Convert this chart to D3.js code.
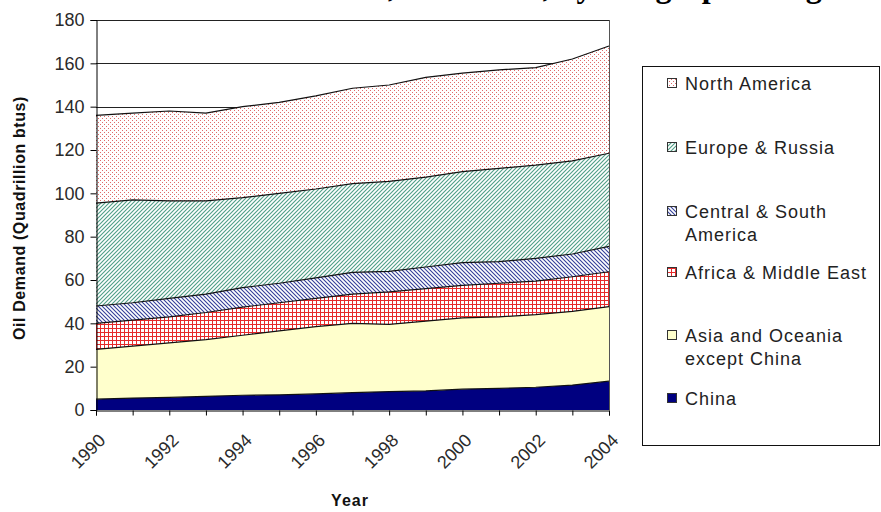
<!DOCTYPE html>
<html>
<head>
<meta charset="utf-8">
<script src="https://cdn.jsdelivr.net/npm/d3@7"></script>
<style>
  body { margin: 0; background: #fff; }
  svg { display: block; font-family: "Liberation Sans", Arial, sans-serif; }
</style>
</head>
<body>
<svg id="chart" width="881" height="512"></svg>
<script>
// data (quadrillion btus per region)
const years = [1990, 1991, 1992, 1993, 1994, 1995, 1996, 1997, 1998, 1999, 2000, 2001, 2002, 2003, 2004];
const china = [5, 5.5, 5.8, 6.3, 6.8, 7.0, 7.4, 8.0, 8.5, 8.8, 9.6, 10.0, 10.5, 11.5, 13.3];
const asia = [23, 24, 25.2, 26.2, 27.7, 29.5, 31.1, 32, 31, 32.2, 32.9, 33, 33.5, 34, 34.4];
const africa = [12, 12, 12, 12.5, 13, 13, 13, 13.5, 15, 15, 15, 15.5, 15.5, 16, 16.1];
const central = [8, 8, 8.5, 8.5, 9, 9, 9.5, 10, 9.5, 10, 10.5, 10, 10.5, 10.5, 11.7];
const europe = [47.5, 47.5, 45, 43, 41.5, 41.5, 41, 41, 41.5, 41.5, 42, 43, 43, 43, 43];
const northAmerica = [40.5, 40, 41.5, 40.5, 42, 42, 43, 44, 44.5, 46, 45.5, 45.5, 45, 47, 49.5];
const yTicks = [0, 20, 40, 60, 80, 100, 120, 140, 160, 180];
const xLabels = [1990, 1992, 1994, 1996, 1998, 2000, 2002, 2004];

const seriesKeys = ["china", "asia", "africa", "central", "europe", "na"];
const seriesData = { china: china, asia: asia, africa: africa, central: central, europe: europe, na: northAmerica };

// legend, top to bottom
const legendItems = [
  { key: "na", lines: ["North America"], y: 83 },
  { key: "europe", lines: ["Europe & Russia"], y: 147 },
  { key: "central", lines: ["Central & South", "America"], y: 211 },
  { key: "africa", lines: ["Africa & Middle East"], y: 272 },
  { key: "asia", lines: ["Asia and Oceania", "except China"], y: 335 },
  { key: "china", lines: ["China"], y: 398 }
];

const svg = d3.select("#chart");
const defs = svg.append("defs");

// fill patterns similar to the old Excel ones
var pDots = defs.append("pattern").attr("id", "p-na")
  .attr("width", 4).attr("height", 4).attr("patternUnits", "userSpaceOnUse");
pDots.append("rect").attr("width", 4).attr("height", 4).attr("fill", "#fff");
pDots.append("rect").attr("x", 0).attr("y", 0).attr("width", 1).attr("height", 1).attr("fill", "#e06a6a");
pDots.append("rect").attr("x", 2).attr("y", 2).attr("width", 1).attr("height", 1).attr("fill", "#e06a6a");

var pEu = defs.append("pattern").attr("id", "p-europe")
  .attr("width", 4).attr("height", 4).attr("patternUnits", "userSpaceOnUse");
pEu.append("rect").attr("width", 4).attr("height", 4).attr("fill", "#fff");
pEu.append("path").attr("d", "M-1,1 L1,-1 M0,4 L4,0 M3,5 L5,3")
  .attr("stroke", "#4f9e86").attr("stroke-width", 1.1);

var pCs = defs.append("pattern").attr("id", "p-central")
  .attr("width", 4).attr("height", 4).attr("patternUnits", "userSpaceOnUse");
pCs.append("rect").attr("width", 4).attr("height", 4).attr("fill", "#fff");
pCs.append("path").attr("d", "M-1,3 L1,5 M0,0 L4,4 M3,-1 L5,1")
  .attr("stroke", "#333f99").attr("stroke-width", 1.1);

var pAf = defs.append("pattern").attr("id", "p-africa")
  .attr("width", 4).attr("height", 4).attr("patternUnits", "userSpaceOnUse");
pAf.append("rect").attr("width", 4).attr("height", 4).attr("fill", "#fff");
pAf.append("path").attr("d", "M0.5,0 V4 M0,0.5 H4")
  .attr("stroke", "#e52a2a").attr("stroke-width", 1);

const fills = {
  na: "url(#p-na)",
  europe: "url(#p-europe)",
  central: "url(#p-central)",
  africa: "url(#p-africa)",
  asia: "#ffffcc",
  china: "#000080"
};

const margin = { top: 20, left: 96, right: 272, bottom: 102 };
const plotW = 881 - margin.left - margin.right;
const plotH = 512 - margin.top - margin.bottom;

const x = d3.scaleLinear().domain([1990, 2004]).range([margin.left, margin.left + plotW]);
const y = d3.scaleLinear().domain([0, 180]).range([margin.top + plotH, margin.top]);

// title, mostly clipped at the top edge (as in the source image)
var title = svg.append("text")
  .attr("y", -3)
  .style("font-family", "'Liberation Serif', 'Times New Roman', serif")
  .style("font-weight", "bold")
  .style("font-size", "32px")
  .text("World Oil Demand, 1990-2004, by Geographic Region");
title.attr("x", 388 - title.node().getSubStringLength(0, 16));

// gridlines behind the areas
svg.append("g").selectAll("line")
  .data(yTicks.filter(function(d) { return d > 0; }))
  .enter().append("line")
  .attr("x1", margin.left).attr("x2", margin.left + plotW)
  .attr("y1", function(d) { return Math.round(y(d)) + 0.5; })
  .attr("y2", function(d) { return Math.round(y(d)) + 0.5; })
  .attr("stroke", "#222").attr("stroke-width", 1);

// right border of plot area
svg.append("line")
  .attr("x1", margin.left + plotW + 0.5).attr("x2", margin.left + plotW + 0.5)
  .attr("y1", margin.top).attr("y2", margin.top + plotH)
  .attr("stroke", "#555");

// stacked areas
var rows = years.map(function(yr, i) {
  var r = { year: yr };
  seriesKeys.forEach(function(k) { r[k] = seriesData[k][i]; });
  return r;
});
var stacked = d3.stack().keys(seriesKeys)(rows);

var area = d3.area()
  .x(function(d) { return x(d.data.year); })
  .y0(function(d) { return y(d[0]); })
  .y1(function(d) { return y(d[1]); });

var topLine = d3.line()
  .x(function(d) { return x(d.data.year); })
  .y(function(d) { return y(d[1]); });

svg.append("g").selectAll("path")
  .data(stacked)
  .enter().append("path")
  .attr("d", area)
  .attr("fill", function(d) { return fills[d.key]; });

svg.append("g").selectAll("path")
  .data(stacked)
  .enter().append("path")
  .attr("d", topLine)
  .attr("fill", "none")
  .attr("stroke", "#111")
  .attr("stroke-width", 1.2);

// y axis
var yAxis = svg.append("g")
  .attr("transform", "translate(" + (margin.left + 0.5) + ",0)")
  .call(d3.axisLeft(y).tickValues(yTicks).tickSize(6).tickPadding(6));
yAxis.select(".domain").attr("stroke", "#000");
yAxis.selectAll(".tick line").attr("stroke", "#000");
yAxis.selectAll("text")
  .style("font-size", "18px")
  .style("font-family", "'Liberation Sans', Arial, sans-serif")
  .attr("fill", "#2a2a2a");

// x axis: ticks each year, labels every other year
var xAxis = svg.append("g")
  .attr("transform", "translate(0," + (margin.top + plotH + 0.5) + ")")
  .call(d3.axisBottom(x).tickValues(years).tickSize(5)
    .tickFormat(function(d) { return xLabels.indexOf(d) >= 0 ? d : ""; }));
xAxis.select(".domain").attr("stroke", "#000");
xAxis.selectAll(".tick line").attr("stroke", "#000");
xAxis.selectAll("text")
  .style("font-size", "18px")
  .style("font-family", "'Liberation Sans', Arial, sans-serif")
  .attr("fill", "#2a2a2a")
  .attr("text-anchor", "end")
  .attr("dy", null)
  .attr("y", 0)
  .attr("transform", "translate(10,31) rotate(-45)");

// axis titles
svg.append("text")
  .attr("transform", "translate(25," + (margin.top + plotH / 2 + 3) + ") rotate(-90)")
  .attr("text-anchor", "middle")
  .style("font-size", "16px")
  .style("font-weight", "bold")
  .style("letter-spacing", "0.6px")
  .attr("fill", "#111")
  .text("Oil Demand (Quadrillion btus)");

svg.append("text")
  .attr("x", 350).attr("y", 506)
  .attr("text-anchor", "middle")
  .style("font-size", "16px")
  .style("font-weight", "bold")
  .style("letter-spacing", "1px")
  .attr("fill", "#111")
  .text("Year");

// legend
svg.append("rect")
  .attr("x", 642.5).attr("y", 66.5)
  .attr("width", 237).attr("height", 379)
  .attr("fill", "#fff").attr("stroke", "#111");

var leg = svg.append("g").selectAll("g")
  .data(legendItems)
  .enter().append("g")
  .attr("transform", function(d) { return "translate(667," + d.y + ")"; });

leg.append("rect")
  .attr("x", 0.5).attr("y", -4.5)
  .attr("width", 9).attr("height", 9)
  .attr("fill", function(d) { return fills[d.key]; })
  .attr("stroke", "#333");

leg.append("text")
  .attr("x", 18).attr("y", 6.5)
  .style("font-size", "18px")
  .style("letter-spacing", "1px")
  .attr("fill", "#222")
  .selectAll("tspan")
  .data(function(d) { return d.lines; })
  .enter().append("tspan")
  .attr("x", 18)
  .attr("dy", function(d, i) { return i === 0 ? 0 : 23; })
  .text(function(d) { return d; });
</script>
</body>
</html>
